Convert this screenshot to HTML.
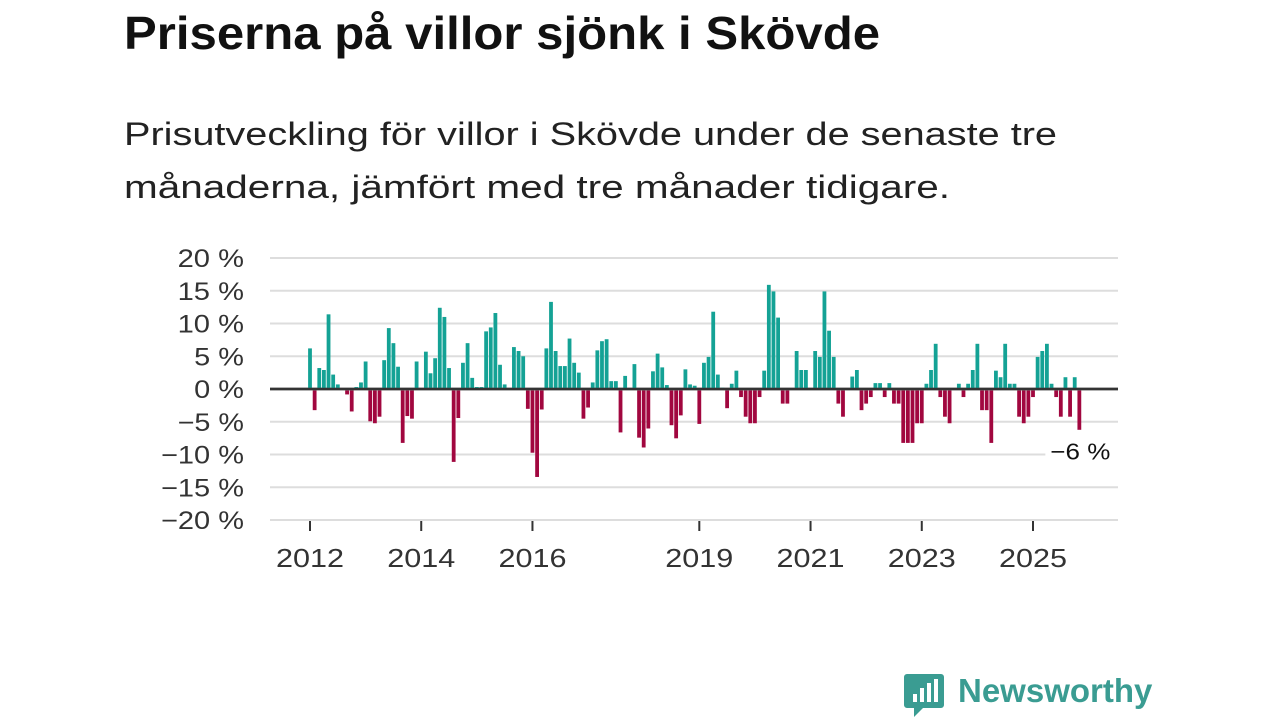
<!DOCTYPE html>
<html><head><meta charset="utf-8">
<style>
body{margin:0;width:1280px;height:720px;background:#fff;font-family:"Liberation Sans","DejaVu Sans",sans-serif;overflow:hidden;position:relative}
h1{position:absolute;left:124px;top:6px;margin:0;font-size:46px;font-weight:bold;color:#111;white-space:nowrap;transform-origin:0 0}
.sl{position:absolute;left:124px;margin:0;font-size:32px;color:#222;white-space:nowrap;transform-origin:0 0}
</style></head><body>
<h1 id="t">Priserna på villor sjönk i Skövde</h1>
<div class="sl" id="s1" style="top:116px">Prisutveckling för villor i Skövde under de senaste tre</div>
<div class="sl" id="s2" style="top:169px">månaderna, jämfört med tre månader tidigare.</div>
<svg id="chart" width="1280" height="720" style="position:absolute;left:0;top:0" font-family="Liberation Sans, DejaVu Sans, sans-serif"></svg>
<div style="position:absolute;left:903px;top:672px;width:260px;height:46px">
<svg width="42" height="46"><path d="M4 2h34a3 3 0 0 1 3 3v28a3 3 0 0 1-3 3H20l-9 9v-9H4a3 3 0 0 1-3-3V5a3 3 0 0 1 3-3z" fill="#3a9c92"/><rect x="10" y="22" width="4" height="8" fill="#fff"/><rect x="17" y="16" width="4" height="14" fill="#fff"/><rect x="24" y="11" width="4" height="19" fill="#fff"/><rect x="31" y="7" width="4" height="23" fill="#fff"/></svg>
<span style="position:absolute;left:55px;top:0px;font-size:33px;font-weight:bold;color:#3a9c92">Newsworthy</span>
</div>
<script>
const values=[6.2,-3,3.2,2.9,11.4,2.2,0.7,0,-0.6,-3.2,0.3,1,4.2,-4.7,-5,-4,4.4,9.3,7,3.4,-8,-3.9,-4.3,4.2,0,5.7,2.4,4.7,12.4,11,3.2,-10.9,-4.2,4,7,1.7,0.3,0.3,8.8,9.4,11.6,3.7,0.7,0,6.4,5.8,5,-2.8,-9.5,-13.2,-2.9,6.2,13.3,5.8,3.5,3.5,7.7,4,2.5,-4.3,-2.6,1,5.9,7.3,7.6,1.2,1.2,-6.4,2,0,3.8,-7.2,-8.7,-5.8,2.7,5.4,3.3,0.6,-5.3,-7.3,-3.8,3,0.7,0.5,-5.1,4,4.9,11.8,2.2,0.2,-2.7,0.8,2.8,-1,-4,-5,-5,-1,2.8,15.9,14.9,10.9,-2,-2,0,5.8,2.9,2.9,0,5.8,4.9,14.9,8.9,4.9,-2,-4,0,1.9,2.9,-3,-2,-1,0.9,0.9,-1,0.9,-2,-2,-8,-8,-8,-5,-5,0.8,2.9,6.9,-1,-4,-5,0,0.8,-1,0.8,2.9,6.9,-3,-3,-8,2.8,1.8,6.9,0.8,0.8,-4,-5,-4,-1,4.9,5.8,6.9,0.8,-1,-4,1.8,-4,1.8,-6];
const startYear=2012;
const yTicks=[20,15,10,5,0,-5,-10,-15,-20];
const yearTicks=[2012,2014,2016,2019,2021,2023,2025];
const lastLabel="−6 %";
function fit(id,w){const e=document.getElementById(id);const r=e.getBoundingClientRect().width;e.style.transform='scaleX('+(w/r)+')';}
fit('t',756);fit('s1',933);fit('s2',826);
const svg=document.getElementById('chart');
const NS='http://www.w3.org/2000/svg';
const x=m=>310+m*(723/156);
const y=v=>389-v*6.55;
function mk(t,a){const e=document.createElementNS(NS,t);for(const k in a)e.setAttribute(k,a[k]);svg.appendChild(e);return e;}
yTicks.forEach(v=>{
 const g=mk('line',{x1:270,x2:1118,y1:y(v),y2:y(v),stroke:v===0?'#333':'#ddd','stroke-width':v===0?2.5:2});
 
 
 const lbl=(v<0?'−'+(-v):v)+' %';
 const t=mk('text',{x:244,y:y(v)+9,'text-anchor':'end','font-size':25,fill:'#333',textLength:lbl.length*16.6,lengthAdjust:'spacingAndGlyphs'});
 t.textContent=lbl;
 
 
});
values.forEach((v,i)=>{
 if(v===0)return;
 const r=mk('rect',{x:x(i)-1.9,width:3.8,y:v>0?y(v):y(0)+1.5,height:Math.abs(y(v)-y(0)),fill:v>0?'#14a295':'#a1073f'});
 
 
});
const z=mk('line',{x1:270,x2:1118,y1:y(0),y2:y(0),stroke:'#333','stroke-width':2.5});


yearTicks.forEach(yr=>{
 const m=(yr-startYear)*12;
 const l=mk('line',{x1:x(m),x2:x(m),y1:521,y2:531,stroke:'#333','stroke-width':2});
 
 
 const t=mk('text',{x:x(m),y:567,'text-anchor':'middle','font-size':26,fill:'#333',textLength:68,lengthAdjust:'spacingAndGlyphs'});
 t.textContent=yr;
 
 
});
const li=values.length-1;
const bg=mk('rect',{x:x(li)-34,y:y(values[li])+8,width:74,height:30,fill:'#fff'});


const lt=mk('text',{x:x(li)+31,y:y(values[li])+31,'text-anchor':'end','font-size':23,fill:'#111',textLength:60,lengthAdjust:'spacingAndGlyphs'});
lt.textContent=lastLabel;


</script>
</body></html>
